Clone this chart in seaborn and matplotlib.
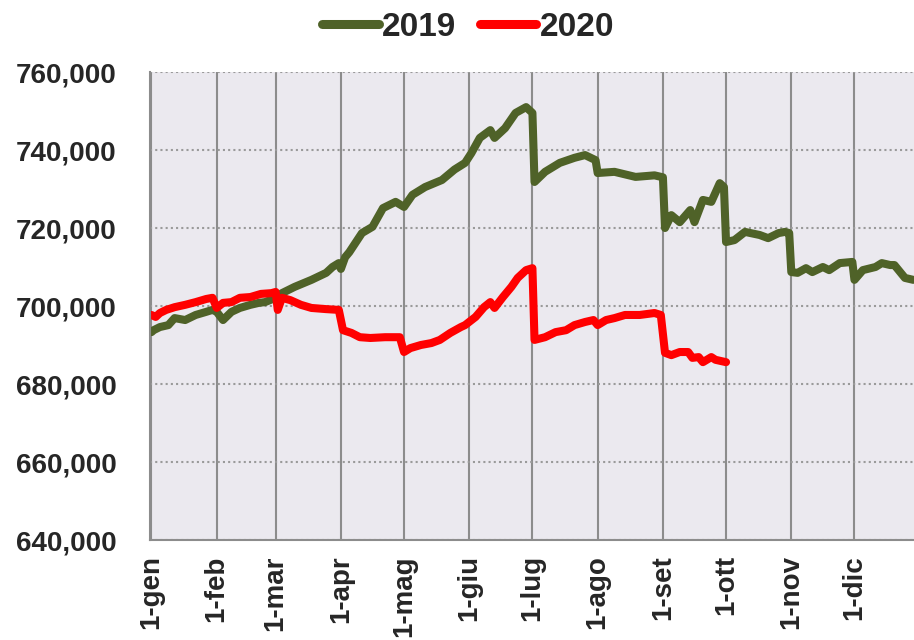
import matplotlib
matplotlib.use('Agg')
import matplotlib.pyplot as plt
import matplotlib.ticker as mticker
import pandas as pd
import seaborn as sns

# day of year (0 = 1 gen) and value
days_2019 = [0, 1, 4, 8, 11, 16, 21, 26, 29, 31, 34, 38, 42, 47, 51, 54, 59, 62, 68, 76,
             83, 86, 89, 90, 92, 94, 100, 105, 110, 116, 120, 124, 130, 138, 144, 149, 152,
             156, 161, 163, 168, 173, 178, 181, 182, 187, 194, 201, 206, 211, 212, 220, 230,
             239, 243, 244, 247, 251, 256, 258, 262, 266, 270, 272, 273, 277, 282, 289, 293,
             298, 301, 303, 304, 307, 311, 314, 319, 322, 327, 333, 334, 338, 344, 347, 351,
             353, 358, 362]
vals_2019 = [693300, 693800, 694600, 695100, 696900, 696400, 697700, 698500, 699000, 698500,
             696400, 698500, 699500, 700300, 700800, 701000, 702100, 703300, 704900, 706700,
             708500, 710000, 711000, 709500, 712500, 713800, 718700, 720300, 725100, 726700,
             725400, 728500, 730500, 732300, 735000, 736700, 739200, 743100, 745100, 743100,
             745600, 749500, 751000, 749500, 731800, 734400, 736700, 738000, 738700, 737400,
             734100, 734400, 733100, 733500, 733000, 720000, 723300, 721500, 724600, 721500,
             727200, 726700, 731500, 730500, 716400, 716900, 719000, 718200, 717400, 718700,
             719000, 718700, 708700, 708500, 709700, 708700, 710000, 709200, 711000, 711300,
             706700, 709200, 710000, 711000, 710500, 710500, 707200, 706700]

days_2020 = [0, 2, 4, 7, 11, 16, 21, 26, 29, 31, 34, 38, 42, 47, 52, 57, 59, 60, 62, 66,
             71, 76, 83, 89, 91, 95, 99, 104, 111, 118, 120, 123, 128, 133, 137, 142, 147,
             149, 154, 158, 161, 163, 167, 171, 174, 178, 181, 182, 187, 192, 197, 201, 206,
             210, 212, 216, 220, 225, 232, 239, 242, 244, 247, 251, 255, 257, 260, 262, 266,
             268, 273]
vals_2020 = [697700, 697200, 698200, 699000, 699700, 700300, 701000, 701800, 702100, 699500,
             700800, 701000, 702100, 702300, 703100, 703300, 703600, 699000, 702100, 701500,
             700300, 699500, 699200, 699000, 693800, 693100, 692000, 691800, 692000, 692000,
             688200, 689200, 690000, 690500, 691300, 693100, 694600, 695100, 697200, 699700,
             701000, 699500, 702300, 704900, 707200, 709200, 709700, 691300, 692000, 693300,
             693800, 695100, 695900, 696400, 695100, 696400, 696900, 697700, 697700, 698200,
             697700, 688000, 687400, 688200, 688200, 686700, 686900, 685600, 686900, 686200,
             685600]

month_days = [0, 31, 59, 90, 120, 151, 181, 212, 243, 273, 304, 334]
month_labels = ['1-gen', '1-feb', '1-mar', '1-apr', '1-mag', '1-giu', '1-lug',
                '1-ago', '1-set', '1-ott', '1-nov', '1-dic']

df19 = pd.DataFrame({'giorno': days_2019, 'valore': vals_2019})
df20 = pd.DataFrame({'giorno': days_2020, 'valore': vals_2020})

sns.set_style('white', {'axes.facecolor': '#EBE9EF'})
plt.rcParams['font.family'] = ['Liberation Sans', 'DejaVu Sans']
plt.rcParams['font.weight'] = 'bold'

fig = plt.figure(figsize=(9.14, 6.4), dpi=100)
ax = fig.add_axes([150 / 914, 100 / 640, 764 / 914, 468 / 640])

sns.lineplot(data=df19, x='giorno', y='valore', ax=ax, color='#4F6228', linewidth=5.8,
             solid_joinstyle='round', solid_capstyle='round', label='2019')
sns.lineplot(data=df20, x='giorno', y='valore', ax=ax, color='#FF0000', linewidth=5.8,
             solid_joinstyle='round', solid_capstyle='round', label='2020')

ax.set_xlim(-0.7, 362.3)
ax.set_ylim(640000, 760000)
ax.set_xticks(month_days)
ax.set_xticklabels(month_labels, rotation=90, fontsize=20, fontweight='bold')
ax.set_yticks(range(640000, 760001, 20000))
ax.yaxis.set_major_formatter(mticker.FuncFormatter(lambda v, p: f'{v:,.0f}'))
for lab in ax.get_yticklabels():
    lab.set_fontsize(20)
    lab.set_fontweight('bold')
ax.set_xlabel('')
ax.set_ylabel('')

ax.xaxis.grid(True, color='#8C8C8C', linewidth=1.5, linestyle='-')
ax.yaxis.grid(True, color='#9A9A9A', linewidth=1.5, linestyle=(0, (1, 1.5)))
ax.set_axisbelow(True)

ax.tick_params(axis='both', which='major', length=6, width=1.5, color='#8C8C8C')
ax.tick_params(axis='y', pad=18)
ax.tick_params(axis='x', pad=5)
for s in ['top', 'right']:
    ax.spines[s].set_visible(False)
for s in ['left', 'bottom']:
    ax.spines[s].set_color('#8C8C8C')
    ax.spines[s].set_linewidth(1.5)

leg = ax.legend(loc='center', bbox_to_anchor=(468 / 914, 1 - 27 / 640),
                bbox_transform=fig.transFigure, ncol=2, frameon=False,
                prop={'size': 24, 'weight': 'bold'}, handlelength=1.7,
                handletextpad=0.1, columnspacing=0.7)
for h in leg.get_lines():
    h.set_linewidth(6.5)
    h.set_solid_capstyle('round')

plt.savefig('out.png', dpi=100)
